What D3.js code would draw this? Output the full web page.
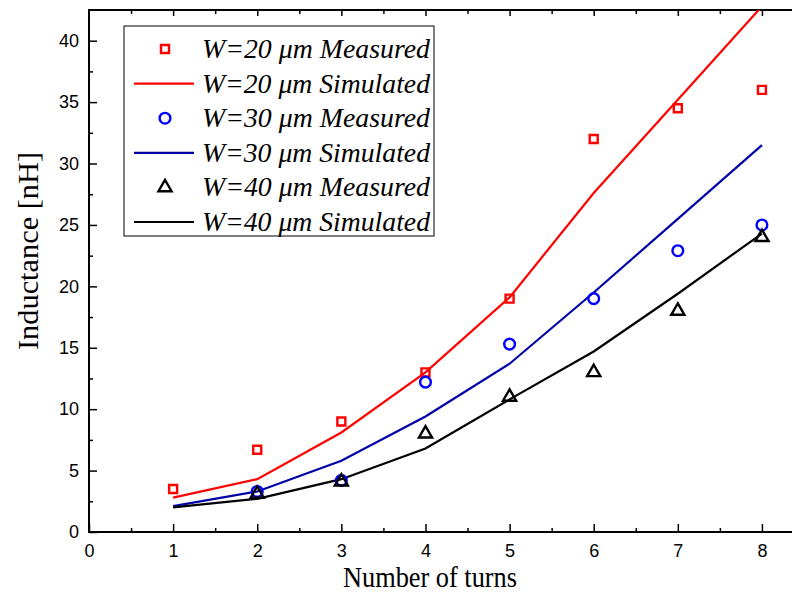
<!DOCTYPE html>
<meta charset="utf-8">
<style>
    body { margin: 0; background: #fff; }
    .tick text { font: 18px "Liberation Sans", Arial, sans-serif; fill: #000; }
    .title { font: 30px "Liberation Serif", "Times New Roman", serif; fill: #000; }
    .legend text { font: italic 27px "Liberation Serif", "Times New Roman", serif; fill: #000; }
</style>
<svg width="792" height="594"></svg>
<script src="https://d3js.org/d3.v7.min.js"></script>
<script>

    var turns = [1, 2, 3, 4, 5, 6, 7, 8];
    var w20Measured = [3.5, 6.7, 9.0, 13.0, 19.0, 32.0, 34.5, 36.0];
    var w20Simulated = [2.8, 4.3, 8.1, 13.0, 19.1, 27.6, 35.2, 42.8];
    var w30Measured = [null, 3.3, 4.2, 12.2, 15.3, 19.0, 22.9, 25.0];
    var w30Simulated = [2.1, 3.3, 5.8, 9.4, 13.7, 19.5, 25.5, 31.5];
    var w40Measured = [null, 3.1, 4.1, 8.0, 11.0, 13.0, 18.0, 24.0];
    var w40Simulated = [2.0, 2.7, 4.3, 6.8, 10.8, 14.7, 19.4, 24.3];
    var legendLabels = ["W=20 \u03bcm Measured", "W=20 \u03bcm Simulated",
                        "W=30 \u03bcm Measured", "W=30 \u03bcm Simulated",
                        "W=40 \u03bcm Measured", "W=40 \u03bcm Simulated"];

    var svg = d3.select("svg"),
        plotLeft = 89, plotTop = 10, plotRight = 804, plotBottom = 532;

    var x = d3.scaleLinear().domain([0, 8.5]).range([plotLeft, plotRight]);
    var y = d3.scaleLinear().domain([0, 42.5]).range([plotBottom, plotTop]);

    svg.append("clipPath").attr("id", "clip")
        .append("rect").attr("x", plotLeft).attr("y", plotTop)
        .attr("width", plotRight - plotLeft).attr("height", plotBottom - plotTop);

    // minor ticks
    function minor(axis, vals) {
        return axis.tickValues(vals).tickSize(4).tickFormat("");
    }
    var xMinor = d3.range(0.5, 8.5, 1), yMinor = d3.range(2.5, 42.5, 5);

    svg.append("g").attr("transform", "translate(0," + plotBottom + ")")
        .call(minor(d3.axisTop(x), xMinor));
    svg.append("g").attr("transform", "translate(0," + plotTop + ")")
        .call(minor(d3.axisBottom(x), xMinor));
    svg.append("g").attr("transform", "translate(" + plotLeft + ",0)")
        .call(minor(d3.axisRight(y), yMinor));

    var xAxis = svg.append("g").attr("transform", "translate(0," + plotBottom + ")")
        .call(d3.axisTop(x).tickValues(d3.range(0, 9)).tickSize(8).tickFormat(d3.format("d")));
    xAxis.selectAll("text").attr("y", 12).attr("dy", "0.71em");

    svg.append("g").attr("transform", "translate(0," + plotTop + ")")
        .call(d3.axisBottom(x).tickValues(d3.range(1, 9)).tickSize(6).tickFormat(""));

    var yAxis = svg.append("g").attr("transform", "translate(" + plotLeft + ",0)")
        .call(d3.axisRight(y).tickValues(d3.range(0, 45, 5)).tickSize(8).tickFormat(d3.format("d")));
    yAxis.selectAll("text").attr("x", -10).attr("text-anchor", "end");

    svg.selectAll(".domain").remove();
    svg.selectAll(".tick line").attr("stroke", "#000").attr("stroke-width", 1.5);

    // frame
    svg.append("path")
        .attr("d", "M" + plotRight + "," + plotTop + "H" + plotLeft + "V" + plotBottom + "H" + plotRight)
        .attr("fill", "none").attr("stroke", "#000").attr("stroke-width", 2);

    svg.append("text").attr("class", "title")
        .attr("x", 343).attr("y", 587)
        .attr("textLength", 174).attr("lengthAdjust", "spacingAndGlyphs")
        .text("Number of turns");
    svg.append("text").attr("class", "title")
        .attr("transform", "translate(38,350) rotate(-90)")
        .attr("textLength", 198).attr("lengthAdjust", "spacingAndGlyphs")
        .text("Inductance [nH]");

    var plot = svg.append("g").attr("clip-path", "url(#clip)");

    var line = d3.line().x(function (d, i) { return x(turns[i]); }).y(function (d) { return y(d); });

    var series = [
        { values: w20Simulated, color: "#ff0000" },
        { values: w30Simulated, color: "#0000a8" },
        { values: w40Simulated, color: "#000000" }
    ];
    series.forEach(function (s) {
        plot.append("path").datum(s.values)
            .attr("d", line).attr("fill", "none")
            .attr("stroke", s.color).attr("stroke-width", 2.2);
    });

    var sym = {
        square: d3.symbol().type(d3.symbolSquare).size(64),
        circle: d3.symbol().type(d3.symbolCircle).size(90),
        triangle: d3.symbol().type(d3.symbolTriangle).size(75)
    };

    function markers(values, shape, color) {
        var pts = values.map(function (v, i) { return { t: turns[i], v: v }; })
            .filter(function (p) { return p.v != null; });
        plot.append("g").selectAll("path").data(pts).enter().append("path")
            .attr("transform", function (d) { return "translate(" + x(d.t) + "," + y(d.v) + ")"; })
            .attr("d", sym[shape]).attr("fill", "none")
            .attr("stroke", color).attr("stroke-width", 2.4);
    }
    markers(w20Measured, "square", "#ff0000");
    markers(w30Measured, "circle", "#0000ff");
    markers(w40Measured, "triangle", "#000000");

    // legend
    var legend = svg.append("g").attr("class", "legend");
    legend.append("rect").attr("x", 124).attr("y", 26).attr("width", 310).attr("height", 210)
        .attr("fill", "#fff").attr("stroke", "#000").attr("stroke-width", 1);

    var legendItems = [
        { kind: "square", color: "#ff0000" },
        { kind: "line", color: "#ff0000" },
        { kind: "circle", color: "#0000ff" },
        { kind: "line", color: "#0000a8" },
        { kind: "triangle", color: "#000000" },
        { kind: "line", color: "#000000" }
    ];
    legendItems.forEach(function (it, i) {
        var cy = 49 + i * 34.6;
        if (it.kind === "line") {
            legend.append("line").attr("x1", 134).attr("x2", 194).attr("y1", cy).attr("y2", cy)
                .attr("stroke", it.color).attr("stroke-width", 2.2);
        } else {
            legend.append("path").attr("transform", "translate(165," + cy + ")")
                .attr("d", sym[it.kind]).attr("fill", "none")
                .attr("stroke", it.color).attr("stroke-width", 2.4);
        }
        legend.append("text").attr("x", 202).attr("y", cy + 9)
            .attr("textLength", 228).attr("lengthAdjust", "spacingAndGlyphs")
            .text(legendLabels[i]);
    });

</script>
